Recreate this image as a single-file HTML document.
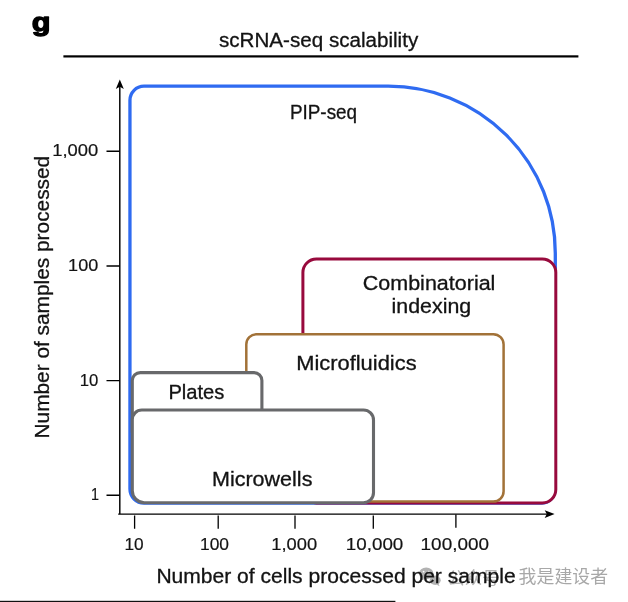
<!DOCTYPE html>
<html>
<head>
<meta charset="utf-8">
<title>scRNA-seq scalability</title>
<style>
html,body{margin:0;padding:0;background:#fff;}
body{width:628px;height:602px;overflow:hidden;position:relative;font-family:"Liberation Sans",sans-serif;}
svg{position:absolute;left:0;top:0;display:block;will-change:transform;}
text{font-family:"Liberation Sans",sans-serif;fill:#131313;}
.lbl{font-size:19.3px;stroke:#131313;stroke-width:0.3px;}.ttl{font-size:19.4px;stroke:#131313;stroke-width:0.3px;}
.tick{font-size:16.8px;stroke:#131313;stroke-width:0.2px;}
</style>
</head>
<body>
<svg width="628" height="602" viewBox="0 0 628 602">
<rect x="0" y="0" width="628" height="602" fill="#ffffff"/>

<!-- panel letter -->
<text transform="translate(31.8 31.1) scale(1.185 1)" x="0" y="0" font-size="25.85" font-weight="bold" stroke="#000" stroke-width="1.3" stroke-linejoin="round" style="fill:#000">g</text>

<!-- title + rule -->
<text class="ttl" x="219.0" y="47.0" textLength="199.2" lengthAdjust="spacingAndGlyphs">scRNA-seq scalability</text>
<rect x="63.4" y="55.3" width="515" height="2.2" fill="#000"/>

<!-- bottom rule -->
<rect x="0" y="600.8" width="395.4" height="1.2" fill="#111"/>

<!-- regions -->
<path d="M129.95 489.1 V100.2 A14 14 0 0 1 143.95 86.2 H388.30 A167 167 0 0 1 555.3 253.2 V489.1 A14 14 0 0 1 541.3 503.1 H143.95 A14 14 0 0 1 129.95 489.1 Z" fill="#fff" stroke="#2f6bf1" stroke-width="3.3"/>
<rect x="302.9" y="259.0" width="252.90" height="243.90" rx="13.5" ry="13.5" fill="#fff" stroke="#980a3d" stroke-width="3.0"/>
<rect x="246.3" y="334.2" width="257.30" height="167.40" rx="10.3" ry="10.3" fill="#fff" stroke="#a27238" stroke-width="2.5"/>
<rect x="132.3" y="372.6" width="129.60" height="67.40" rx="8" ry="8" fill="#fff" stroke="#68696b" stroke-width="3.1"/>
<path d="M132.3 419.5 A9.5 9.5 0 0 1 141.8 410.0 H363.5 A10 10 0 0 1 373.5 420.0 V492.7 A10 10 0 0 1 363.5 502.7 H144.3 A12 12 0 0 1 132.3 490.7 Z" fill="#fff" stroke="#68696b" stroke-width="3.1"/>

<!-- axes -->
<g stroke="#000" stroke-width="1.45" fill="none">
<path d="M119.8 86 V514.1 M118.2 514.1 H547"/>
<path d="M106.5 151.2 H119.8 M106.5 266 H119.8 M106.5 380.6 H119.8 M106.5 495.2 H119.8"/>
</g>
<g stroke="#000" stroke-width="1.3" fill="none">
<path d="M134.6 515.5 V528.8 M218.2 515.5 V528.8 M295 515.5 V528.8 M373.3 515.5 V528.8 M455.9 514.5 V527.8"/>
</g>
<path d="M119.8 79.5 L123.8 89 L119.8 86.8 L115.8 89 Z" fill="#000"/>
<path d="M554.6 514.1 L544.7 518 L546.8 514.1 L544.7 510.2 Z" fill="#000"/>

<!-- y tick labels -->
<g class="tick">
<text class="tick" x="52.2" y="156.0" textLength="46.0" lengthAdjust="spacingAndGlyphs">1,000</text>
<text class="tick" x="68.1" y="270.8" textLength="30.1" lengthAdjust="spacingAndGlyphs">100</text>
<text class="tick" x="79.7" y="385.5" textLength="18.6" lengthAdjust="spacingAndGlyphs">10</text>
<text class="tick" x="90.9" y="500.3" textLength="8" lengthAdjust="spacingAndGlyphs">1</text>
</g>
<!-- x tick labels -->
<g class="tick">
<text class="tick" x="124.5" y="549.9" textLength="19.2" lengthAdjust="spacingAndGlyphs">10</text>
<text class="tick" x="200" y="549.9" textLength="29" lengthAdjust="spacingAndGlyphs">100</text>
<text class="tick" x="271.3" y="549.9" textLength="45.9" lengthAdjust="spacingAndGlyphs">1,000</text>
<text class="tick" x="345.8" y="549.9" textLength="57.5" lengthAdjust="spacingAndGlyphs">10,000</text>
<text class="tick" x="420.6" y="549.9" textLength="68.4" lengthAdjust="spacingAndGlyphs">100,000</text>
</g>

<!-- watermark -->
<g opacity="1">
<g fill="#b2b2b2">
<ellipse cx="426.2" cy="573.4" rx="7.2" ry="5.9"/>
<path d="M421.5 577.6 L420.6 581 L424.4 578.9 Z"/>
<ellipse cx="435.2" cy="580.3" rx="5.5" ry="4.7"/>
<path d="M438.4 583.6 L439.6 586.2 L436.4 584.6 Z"/>
</g>
<g fill="#fff"><circle cx="423.6" cy="571.6" r="0.9"/><circle cx="428.9" cy="571.6" r="0.9"/></g>
<text x="447.2" y="583.6" font-size="17.5" textLength="52.5" lengthAdjust="spacingAndGlyphs" style="fill:#b4b4b4;font-family:'Liberation Sans','Noto Sans CJK SC',sans-serif;">公众号</text>
<text x="518.6" y="583.3" font-size="17.9" textLength="89.5" lengthAdjust="spacingAndGlyphs" style="fill:#a8a8a8;font-family:'Liberation Sans','Noto Sans CJK SC',sans-serif;">我是建设者</text>
</g>

<!-- axis titles -->
<text class="lbl" x="156.4" y="582.8" textLength="359.2" lengthAdjust="spacingAndGlyphs">Number of cells processed per sample</text>
<text class="lbl" transform="translate(48.5 438.5) rotate(-90)" x="0" y="0" textLength="282.7" lengthAdjust="spacingAndGlyphs">Number of samples processed</text>

<!-- region labels -->
<text class="lbl" x="289.9" y="119.0" textLength="67.2" lengthAdjust="spacingAndGlyphs">PIP-seq</text>
<text class="lbl" x="362.8" y="290.2" textLength="132.6" lengthAdjust="spacingAndGlyphs">Combinatorial</text>
<text class="lbl" x="391.6" y="313.2" textLength="79.6" lengthAdjust="spacingAndGlyphs">indexing</text>
<text class="lbl" x="296.2" y="370.3" textLength="120.4" lengthAdjust="spacingAndGlyphs">Microfluidics</text>
<text class="lbl" x="168.4" y="398.7" textLength="56" lengthAdjust="spacingAndGlyphs">Plates</text>
<text class="lbl" x="212" y="486.1" textLength="100.4" lengthAdjust="spacingAndGlyphs">Microwells</text>

</svg>
</body>
</html>
